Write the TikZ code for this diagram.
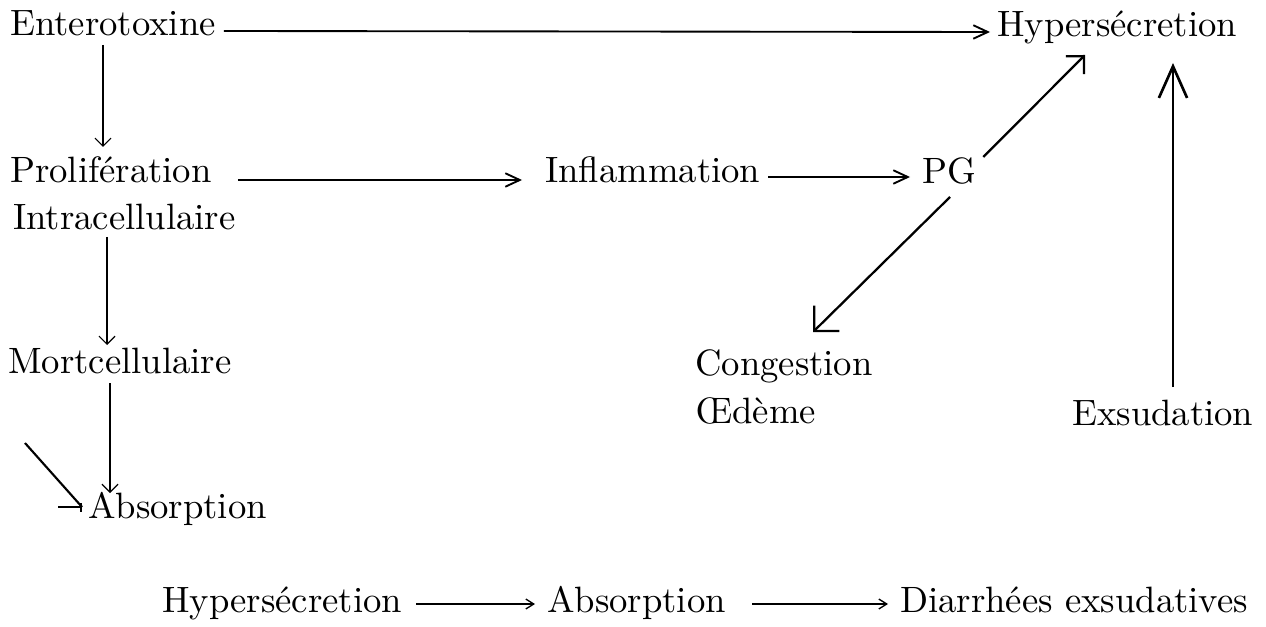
\documentclass[tikz,border=0pt]{standalone}
\usepackage{fontspec}
\setmainfont{lmroman10-regular.otf}
\usetikzlibrary{arrows.meta,calc}

\begin{document}
\begin{tikzpicture}[x=0.75pt,y=-0.75pt,
  lbl/.style={anchor=base west,inner sep=0pt,font=\fontsize{27.5pt}{33pt}\selectfont},
  hline/.style={line width=1.4pt,-{Straight Barb[angle=50:12pt,line width=1.4pt]}},
  vthin/.style={line width=0.9pt,-{Straight Barb[angle=90:8.5pt,line width=0.9pt]}},
  diag/.style={line width=1.7pt,-{Straight Barb[angle=90:#1,line width=1.7pt]}},
  tall/.style={line width=1.2pt,-{Straight Barb[angle=48:26pt,line width=2pt]}},
  bline/.style={line width=1.3pt,-{Straight Barb[angle=64:7pt,line width=1pt]}}]

\fill[white] (0,0) rectangle (1266,627);
\useasboundingbox (0,0) rectangle (1266,627);

% labels
\node[lbl] (ent)   at (10,36)   {Enterotoxine};
\node[lbl] (hyp)   at (997,37)  {Hypersécretion};
\node[lbl] (pro)   at (10,183)  {Prolifération};
\node[lbl] (intra) at (13,230)  {Intracellulaire};
\node[lbl] (infl)  at (545,183) {Inflammation};
\node[lbl] (pg)    at (922,184) {PG};
\node[lbl] (mort)  at (8,373)   {Mortcellulaire};
\node[lbl] (abs)   at (88,518)  {Absorption};
\node[lbl] (cong)  at (695,375) {Congestion};
\node[lbl] (oed)   at (695,423) {Œdème};
\node[lbl] (exs)   at (1072,425) {Exsudation};
\node[lbl] (bhyp)  at (162,612) {Hypersécretion};
\node[lbl] (babs)  at (547,612) {Absorption};
\node[lbl] (bdia)  at (900,612) {Diarrhées exsudatives};

% upper chain
\draw[hline] ($(ent.base east)+(8,-5)$) -- ($(hyp.base west)+(-7,-5)$);
\draw[hline] ($(pro.base east)+(26,-3)$) -- ($(infl.base west)+(-23,-3)$);
\draw[hline] ($(infl.base east)+(8,-6)$) -- ($(pg.base west)+(-12,-7)$);
\draw[diag=13.5pt] ($(pg.base east)+(7,-27)$) -- ($(hyp.base west)+(88,18)$);
\draw[diag=19pt] ($(pg.base west)+(28,13)$) -- ($(cong.base west)+(118,-43)$);
\draw[tall] ($(exs.base west)+(101,-38)$) -- ($(hyp.base west)+(176,26)$);

% left column
\draw[vthin] ($(ent.base west)+(93,9)$) -- ($(pro.base west)+(93,-36)$);
\draw[vthin] ($(intra.base west)+(94,7)$) -- ($(mort.base west)+(99,-28)$);
\draw[vthin] ($(mort.base west)+(102,10)$) -- ($(abs.base west)+(22,-25)$);

% oblique input into absorption, with its angled tip
\coordinate (absfree) at ($(abs.base west)+(-63,-75)$);
\coordinate (abstip)  at ($(abs.base west)+(-6,-11)$);
\draw[line width=1.6pt] (absfree) -- (abstip);
\draw[line width=1.4pt] (abstip) -- ++(-24,0);
\draw[line width=1.2pt] ($(abstip)+(-1,-4)$) -- ++(0,9);

% summary line
\draw[bline] ($(bhyp.base east)+(14,-8)$) -- ($(babs.base west)+(-12,-8)$);
\draw[bline] ($(babs.base east)+(26,-8)$) -- ($(bdia.base west)+(-12,-8)$);
\end{tikzpicture}
\end{document}
